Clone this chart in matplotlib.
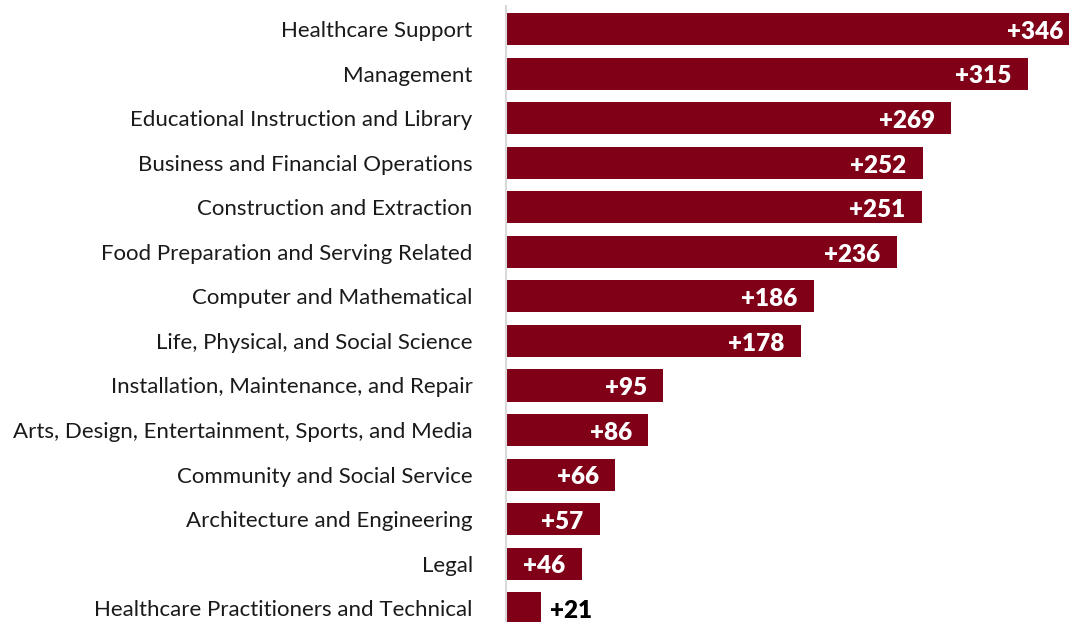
import numpy as np
import matplotlib.pyplot as plt

# job growth by occupation group (thousands)
occupations = [
    "Healthcare Support",
    "Management",
    "Educational Instruction and Library",
    "Business and Financial Operations",
    "Construction and Extraction",
    "Food Preparation and Serving Related",
    "Computer and Mathematical",
    "Life, Physical, and Social Science",
    "Installation, Maintenance, and Repair",
    "Arts, Design, Entertainment, Sports, and Media",
    "Community and Social Service",
    "Architecture and Engineering",
    "Legal",
    "Healthcare Practitioners and Technical",
]
change = [346, 315, 269, 252, 251, 236, 186, 178, 95, 86, 66, 57, 46, 21]

bar_color = "#800018"
xmax = 340

fig = plt.figure(figsize=(10.69, 6.22), dpi=100)
ax = fig.add_axes([506 / 1069, 0, 563 / 1069, 616 / 622])

y = np.arange(len(occupations))
bars = ax.barh(y, change, height=0.72, color=bar_color)

ax.set_xlim(0, xmax)
ax.set_ylim(13.31, -0.52)
ax.set_yticks(y)
ax.set_yticklabels(occupations, fontsize=16, family="Lato", color="#1a1a1a")
ax.tick_params(axis="y", length=0, pad=24)
ax.set_xticks([])

for s in ["top", "right", "bottom"]:
    ax.spines[s].set_visible(False)
ax.spines["left"].set_color("#d9d9d9")
ax.spines["left"].set_linewidth(1.5)

# value labels: inside the bar end, outside for the short one
for yi, v in zip(y, change):
    txt = "+%d" % v
    if v < 30:
        ax.annotate(txt, (v, yi), xytext=(7, -2), textcoords="offset points",
                    ha="left", va="center", fontsize=17.5, fontweight="heavy",
                    family="Lato", color="black")
    else:
        xe = min(v, xmax)
        off = -12 if v <= xmax else -4
        ax.annotate(txt, (xe, yi), xytext=(off, -2), textcoords="offset points",
                    ha="right", va="center", fontsize=17.5, fontweight="heavy",
                    family="Lato", color="white")

fig.savefig("out.png", dpi=100)
